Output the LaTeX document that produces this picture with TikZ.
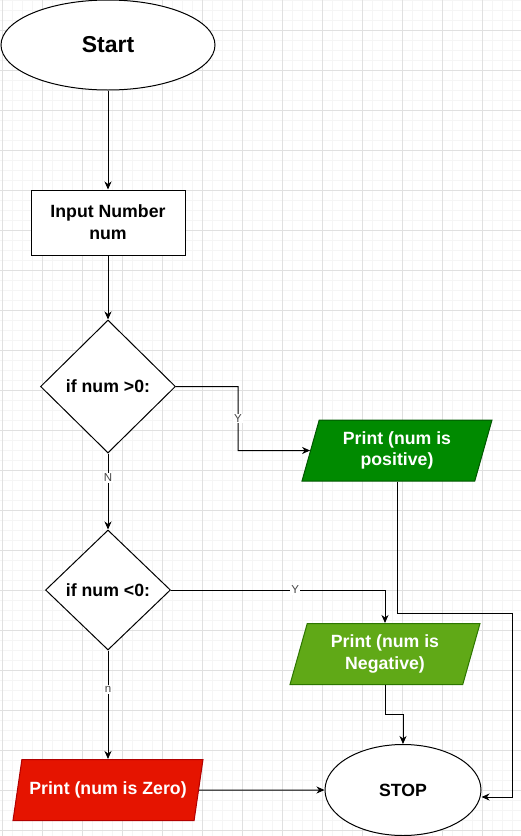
\documentclass[tikz,border=0pt]{standalone}
\usepackage{fontspec}
\setmainfont{Liberation Sans}
\usetikzlibrary{shapes.geometric,arrows.meta}

\definecolor{gridmajor}{RGB}{224,224,224}
\definecolor{gridminor}{RGB}{245,245,245}
\definecolor{posgreen}{RGB}{0,138,0}
\definecolor{posedge}{RGB}{0,87,0}
\definecolor{neggreen}{RGB}{96,169,23}
\definecolor{negedge}{RGB}{45,118,0}
\definecolor{zerored}{RGB}{229,20,0}
\definecolor{zeroedge}{RGB}{178,0,0}
\definecolor{labelgray}{RGB}{68,68,68}

\tikzset{
	txt/.style={font=\fontsize{17.7}{21.7}\selectfont\bfseries, align=center},
	terminal/.style={ellipse, draw, fill=white, txt, inner sep=0pt},
	process/.style={rectangle, draw, fill=white, txt, minimum width=154pt, minimum height=65pt},
	decision/.style={diamond, draw, fill=white, txt, inner sep=0pt},
	io/.style={trapezium, trapezium left angle=69, trapezium right angle=111,
		trapezium stretches body, draw, txt, text=white, minimum width=190pt, minimum height=61pt},
	arr/.style={-{Stealth[length=8pt,width=7pt,inset=2.5pt]}},
	lbl/.style={fill=white, text=labelgray, font=\fontsize{11.5}{13}\selectfont, inner sep=1pt}
}

\begin{document}
\begin{tikzpicture}[x=1pt, y=-1pt, line width=1pt]
	\useasboundingbox (0,0) rectangle (521,836);
	
	% background grid
	\foreach \gx in {2,12,...,521} \draw[gridminor] (\gx,0) -- (\gx,836);
	\foreach \gy in {0,10,...,836} \draw[gridminor] (0,\gy) -- (521,\gy);
	\foreach \gx in {2,42,...,521} \draw[gridmajor] (\gx,0) -- (\gx,836);
	\foreach \gy in {30,70,...,836} \draw[gridmajor] (0,\gy) -- (521,\gy);
	
	% main column
	\node[terminal, minimum width=214pt, minimum height=90pt,
		font=\fontsize{23}{27}\selectfont\bfseries] (start) at (108,45) {Start};
	\node[process] (input) at (108,222.5) {Input Number\\num};
	\node[decision, minimum width=135pt, minimum height=133pt] (dec1) at (108,386.5) {if num >0:};
	\node[decision, minimum width=125pt, minimum height=120pt] (dec2) at (108,590) {if num <0:};
	\node[io, fill=zerored, draw=zeroedge] (zero) at (108,790) {Print (num is Zero)};
	
	% right column
	\node[io, fill=posgreen, draw=posedge] (pos) at (397,450.5) {Print (num is\\positive)};
	\node[io, fill=neggreen, draw=negedge] (neg) at (385,654) {Print (num is\\Negative)};
	\node[terminal, minimum width=156pt, minimum height=91pt] (stop) at (403,790) {STOP};
	
	% bends of the connectors
	\coordinate (k1) at (238,450.5);
	\coordinate (k2) at (403,714);
	\coordinate (k3) at (512,613);
	\coordinate (k4) at (512,797);
	
	\draw[arr] (start) -- (input);
	\draw[arr] (input) -- (dec1);
	\draw[arr] (dec1.east) -| node[lbl, pos=0.75] {Y} (k1) -- (pos);
	\draw[arr] (dec1) -- node[lbl, pos=0.32] {N} (dec2);
	\draw[arr] (dec2.east) -| node[lbl, pos=0.29] {Y} (neg);
	\draw[arr] (dec2) -- node[lbl, pos=0.36] {n} (zero);
	
	% to the stop
	\draw[arr] (zero) -- (stop);
	\draw[arr] (neg) |- (k2) -- (stop);
	\draw[arr] (pos) |- (k3) -- (k4) -- (k4 -| stop.east);
\end{tikzpicture}
\end{document}
